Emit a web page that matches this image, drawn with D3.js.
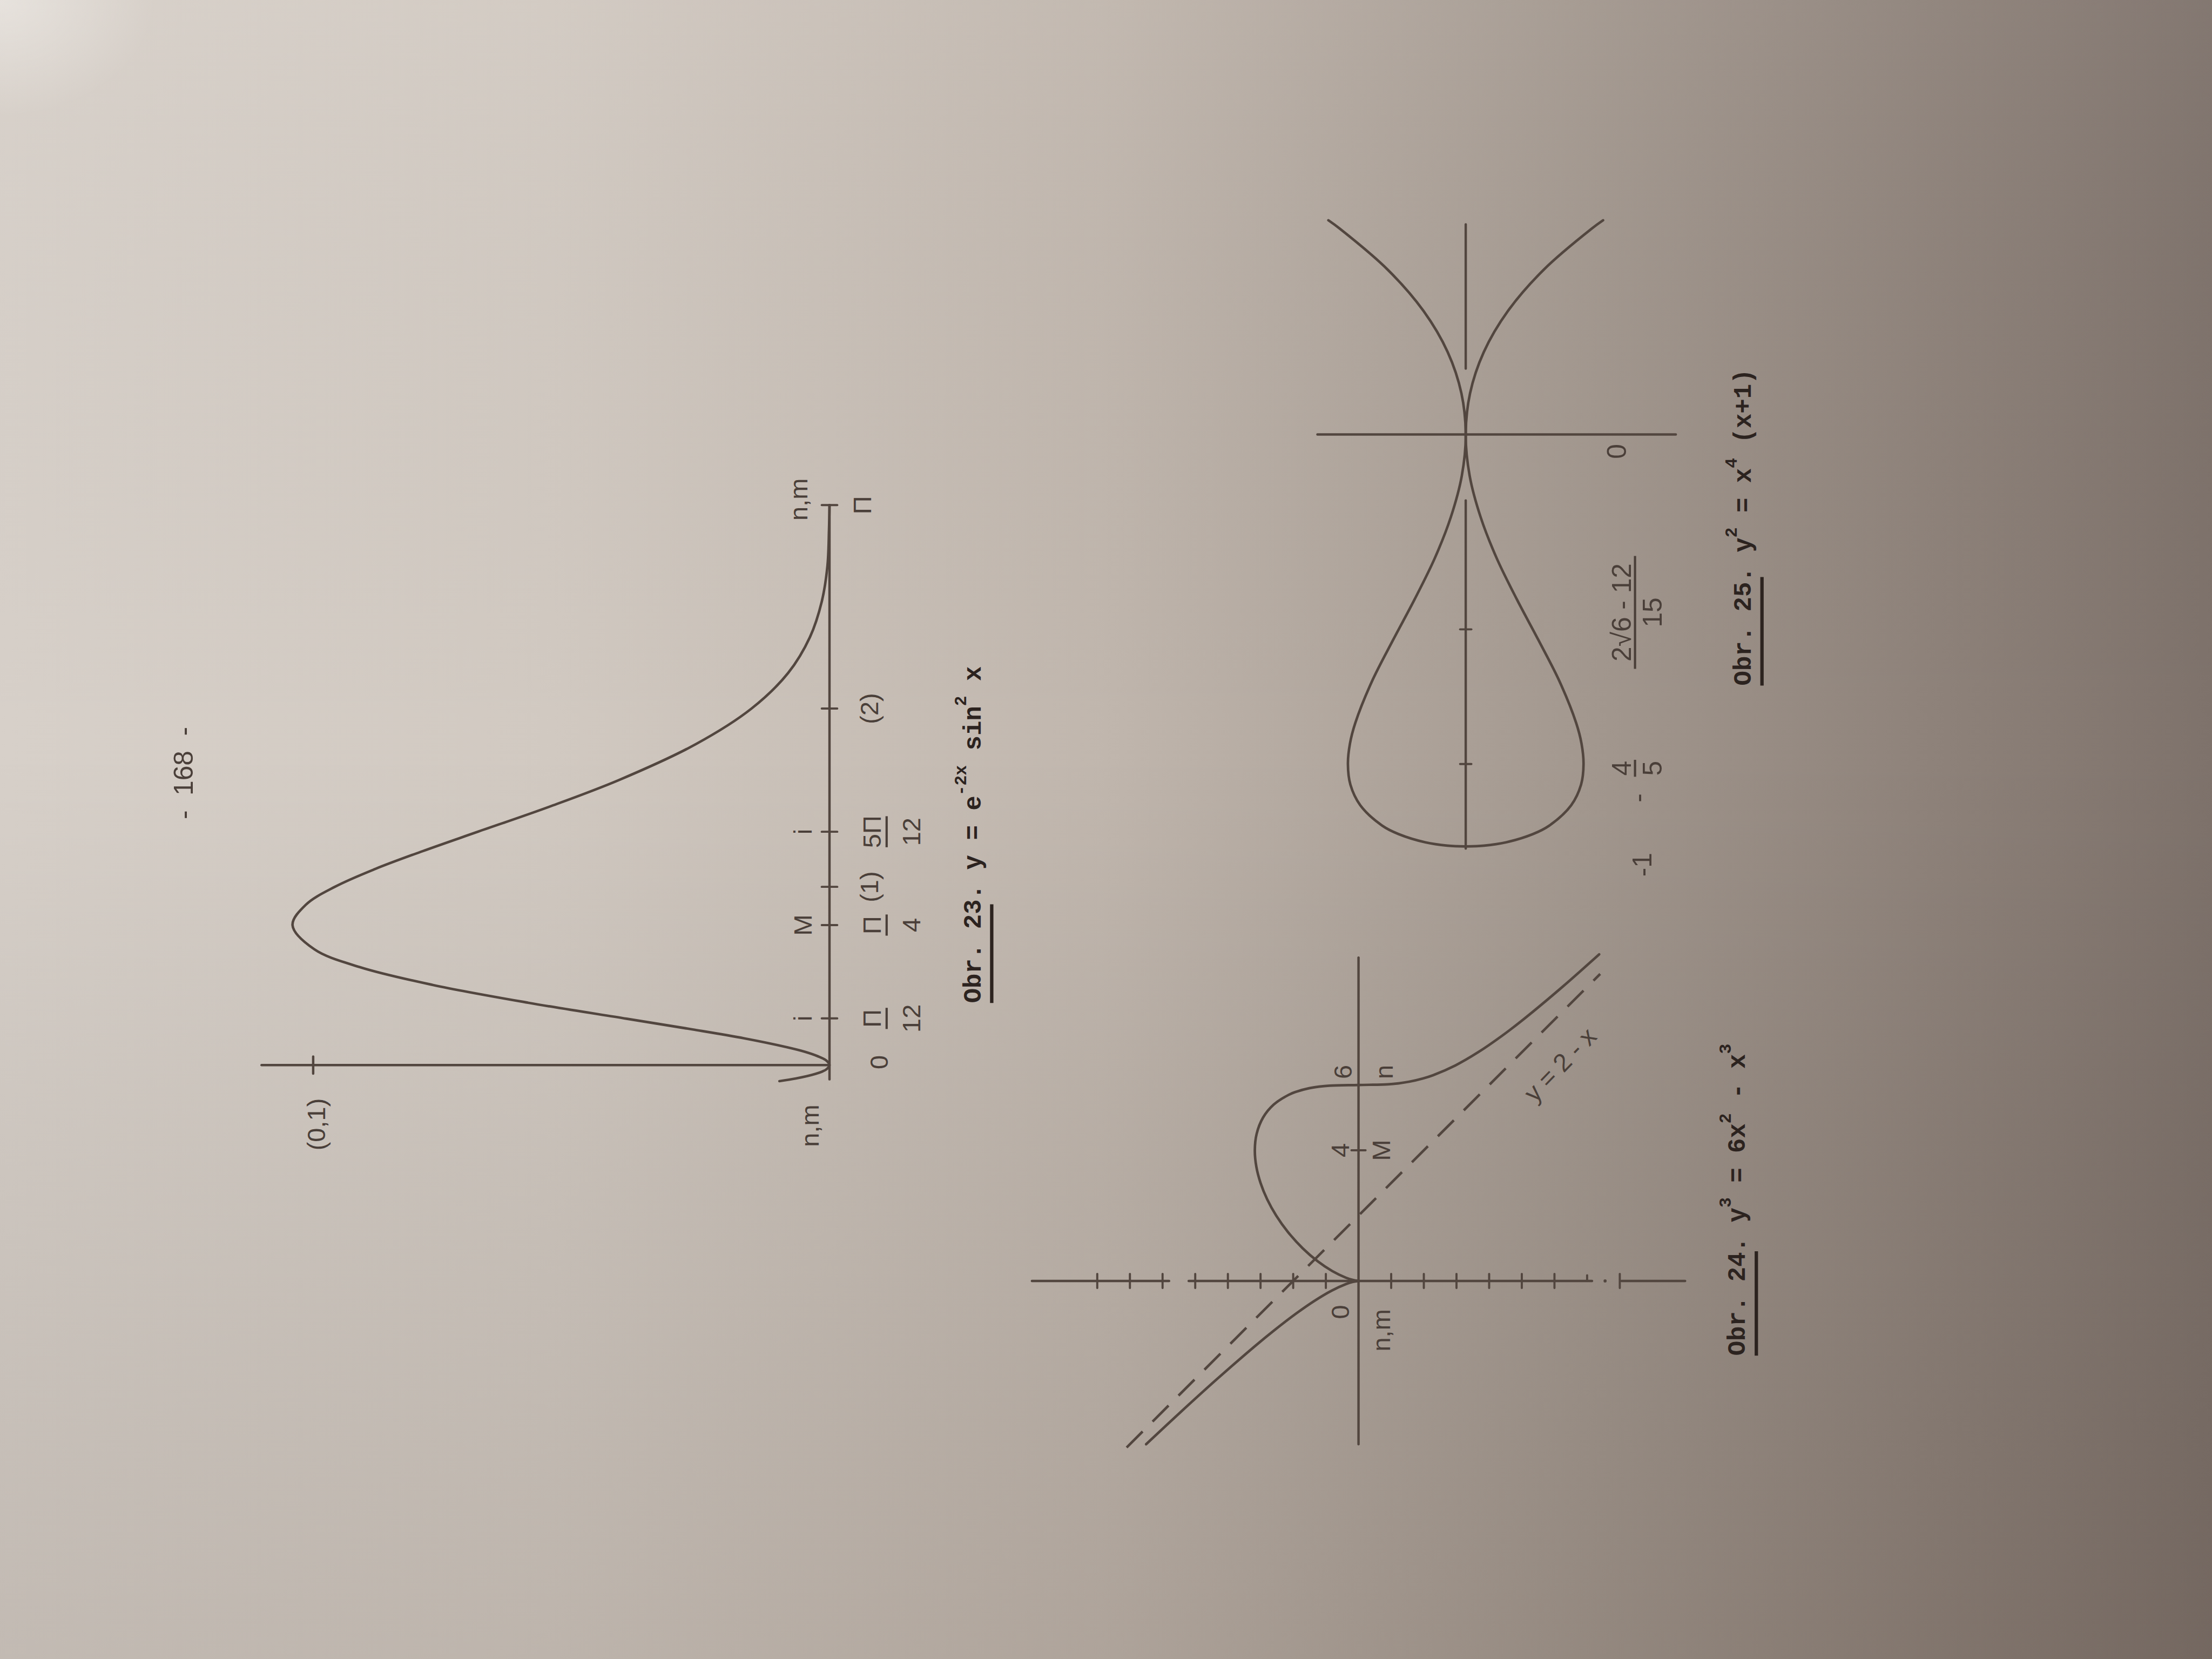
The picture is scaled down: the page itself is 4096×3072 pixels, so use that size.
<!DOCTYPE html>
<html>
<head>
<meta charset="utf-8">
<script src="https://cdn.jsdelivr.net/npm/d3@7/dist/d3.min.js"></script>
<style>
html,body{margin:0;padding:0;overflow:hidden;background:#bdb3ab;}
svg{display:block;}
text{white-space:pre;}
</style>
</head>
<body>
<script>
// ---------------- data ----------------
// Obr. 23 : y = e^(-2x) sin^2 x
const fig23X = [-0.09,-0.075,-0.05,-0.025,0,0.025,0.05,0.075,0.1,0.15,0.2,0.26,0.35,0.45,0.55,0.65,0.785,0.9,1.0,1.1,1.2,1.31,1.45,1.6,1.8,2.0,2.2,2.4,2.6,2.8,3.0,3.14];
const fig23Y = [0.0097,0.0065,0.0028,0.00066,0,0.00059,0.0023,0.0048,0.0082,0.0165,0.0265,0.0393,0.0584,0.0769,0.0910,0.0998,0.1040,0.1014,0.0958,0.0880,0.0788,0.0680,0.0542,0.0407,0.0259,0.0151,0.0080,0.0038,0.0015,0.0004,0.0001,0];
const fig23XTicks = [0.2618,0.7854,1,1.309,2,3.1416];
const fig23PointNames = ["i","M","","i","",""];
const fig23TickLabels = [{num:"Π",den:"12"},{num:"Π",den:"4"},{text:"(1)"},{num:"5Π",den:"12"},{text:"(2)"},{text:"Π"}];
const fig23YTicks = [0.1];
const fig23YTickLabels = ["(0,1)"];

// Obr. 24 : y^3 = 6x^2 - x^3
const fig24LeftX  = [-5,-4,-3,-2,-1.5,-1,-0.6,-0.3,-0.1,-0.03,0];
const fig24LeftY  = [6.503,5.429,4.327,3.175,2.565,1.913,1.334,0.828,0.394,0.176,0];
const fig24RightX = [0,0.03,0.1,0.3,0.6,1,1.5,2,2.5,3,3.5,4,4.5,5,5.4,5.7,5.8,5.9,5.95,5.98,6,6.02,6.05,6.1,6.2,6.3,6.6,7,7.5,8,9,10];
const fig24RightY = [0,0.175,0.389,0.801,1.248,1.710,2.163,2.520,2.797,3.000,3.129,3.175,3.120,2.924,2.596,2.136,1.888,1.515,1.209,0.894,0,-0.898,-1.223,-1.550,-1.974,-2.284,-2.968,-3.659,-4.386,-5.040,-6.240,-7.368];
const fig24AsymX = [-5.1,9.4];
const fig24AsymY = [7.1,-7.4];
const fig24YTicks = [8,7,6,5,4,3,2,1,-1,-2,-3,-4,-5,-6,-8];
const fig24XTicks = [4];

// Obr. 25 : y^2 = x^4 (x+1)
const fig25X = [-1,-0.998,-0.99,-0.97,-0.95,-0.9,-0.85,-0.8,-0.75,-0.7,-0.6,-0.5,-0.4,-0.3,-0.2,-0.1,0,0.1,0.2,0.3,0.4,0.5,0.52];
const fig25Y = [0,0.0446,0.098,0.163,0.202,0.256,0.280,0.286,0.281,0.268,0.228,0.177,0.124,0.075,0.036,0.0095,0,0.0105,0.0438,0.1026,0.1893,0.3062,0.3334];
const fig25XTicks = [-0.8,-0.473];

// captions
const cap23 = [{t:"Obr. 23. y = e"},{t:"-2x",sup:1},{t:" sin"},{t:"2",sup:1},{t:" x"}];
const cap24 = [{t:"Obr. 24. y"},{t:"3",sup:1},{t:" = 6x"},{t:"2",sup:1},{t:" - x"},{t:"3",sup:1}];
const cap25 = [{t:"Obr. 25. y"},{t:"2",sup:1},{t:" = x"},{t:"4",sup:1},{t:" (x+1)"}];
const pageNumber = "-  168  -";

// ---------------- drawing ----------------
const W = 4096, H = 3072, K = W / 1568;
const INK = "#52463f", TXT = "#4a3f39", CAP = "#2c231f";
const SANS = "Liberation Sans, Arial, sans-serif";
const MONO = "Liberation Mono, DejaVu Sans Mono, monospace";

const svg = d3.select("body").append("svg").attr("width", W).attr("height", H);
const defs = svg.append("defs");
function lin(id, x1, y1, x2, y2, stops) {
  const g = defs.append("linearGradient").attr("id", id)
    .attr("x1", x1).attr("y1", y1).attr("x2", x2).attr("y2", y2);
  stops.forEach(s => g.append("stop").attr("offset", s[0]).attr("stop-color", s[1])
    .attr("stop-opacity", s[2] == null ? 1 : s[2]));
}
lin("bgH", 0, 0, 1, 0, [[0,"#d7d0c9"],[0.25,"#d1c9c1"],[0.5,"#c0b6ad"],[0.72,"#a2978e"],[0.88,"#8d8179"],[1,"#7e726b"]]);
lin("bgV", 0, 0, 0, 1, [[0,"#ffffff",0.04],[0.45,"#000000",0],[1,"#2a1a10",0.12]]);
const rg = defs.append("radialGradient").attr("id", "hl").attr("cx", 0).attr("cy", 0).attr("r", 0.07);
rg.append("stop").attr("offset", 0).attr("stop-color", "#f0ede9").attr("stop-opacity", 0.6);
rg.append("stop").attr("offset", 1).attr("stop-color", "#f0ede9").attr("stop-opacity", 0);
svg.append("rect").attr("width", W).attr("height", H).attr("fill", "url(#bgH)");
svg.append("rect").attr("width", W).attr("height", H).attr("fill", "url(#bgV)");
svg.append("rect").attr("width", W).attr("height", H).attr("fill", "url(#hl)");

const root = svg.append("g").attr("transform", `scale(${K})`);

function seg(g, x1, y1, x2, y2, w) {
  return g.append("line").attr("x1", x1).attr("y1", y1).attr("x2", x2).attr("y2", y2)
    .attr("stroke", INK).attr("stroke-width", w || 1.7).attr("stroke-linecap", "round");
}
function vtext(g, x, y, str, size, opt) {
  opt = opt || {};
  return g.append("text").attr("transform", `translate(${x},${y}) rotate(${opt.rot == null ? -90 : opt.rot})`)
    .attr("text-anchor", opt.anchor || "middle").attr("dominant-baseline", "central")
    .attr("font-family", opt.family || SANS).attr("font-size", size)
    .attr("fill", opt.fill || TXT).text(str);
}
function frac(g, barX, y, num, den, size, w, dNum, dDen) {
  const f = g.append("g").attr("transform", `translate(${barX},${y}) rotate(-90)`);
  f.append("text").attr("x", 0).attr("y", dNum).attr("text-anchor", "middle").attr("dominant-baseline", "central")
    .attr("font-family", SANS).attr("font-size", size).attr("fill", TXT).text(num);
  f.append("line").attr("x1", -w / 2).attr("x2", w / 2).attr("y1", 0).attr("y2", 0)
    .attr("stroke", TXT).attr("stroke-width", 1.6);
  f.append("text").attr("x", 0).attr("y", dDen).attr("text-anchor", "middle").attr("dominant-baseline", "central")
    .attr("font-family", SANS).attr("font-size", size).attr("fill", TXT).text(den);
}
function curvePath(g, gen, data, dash) {
  const p = g.append("path").datum(data).attr("d", gen).attr("fill", "none")
    .attr("stroke", INK).attr("stroke-width", 1.8).attr("stroke-linejoin", "round").attr("stroke-linecap", "round");
  if (dash) p.attr("stroke-dasharray", dash).attr("stroke-linecap", "butt");
  return p;
}

// ---------- page number ----------
vtext(root, 130, 548, pageNumber, 19);

// ---------- Obr. 23 ----------
{
  const g = root.append("g");
  const px = d3.scaleLinear().domain([0, Math.PI]).range([755, 358]);   // page x -> image Y
  const py = d3.scaleLinear().domain([0, 0.1]).range([588, 222]);       // page y -> image X
  seg(g, py(0), px(-0.08), py(0), px(Math.PI));
  seg(g, py(0), px(0), py(0.11), px(0));
  fig23YTicks.forEach((v, i) => {
    seg(g, py(v), px(0) - 6, py(v), px(0) + 6);
    vtext(g, py(v) + 2, px(0) + 42, fig23YTickLabels[i], 18);
  });
  fig23XTicks.forEach((v, i) => {
    seg(g, py(0) - 5.5, px(v), py(0) + 5.5, px(v), 1.5);
    if (fig23PointNames[i]) vtext(g, py(0) - 19, px(v), fig23PointNames[i], 18);
    const L = fig23TickLabels[i];
    if (L.num) frac(g, py(0) + 40.5, px(v), L.num, L.den, 18, L.num.length > 1 ? 22 : 15, -10.5, 17.5);
    else vtext(g, py(0) + (L.text === "Π" ? 23 : 28), px(v), L.text, 18);
  });
  vtext(g, py(0) - 22, px(Math.PI) - 4, "n,m", 18);
  vtext(g, py(0) - 14, px(0) + 43, "n,m", 18);
  vtext(g, py(0) + 35, px(0) - 2, "0", 18);
  const gen = d3.line().x(d => py(d[1])).y(d => px(d[0])).curve(d3.curveCatmullRom.alpha(0.5));
  curvePath(g, gen, d3.zip(fig23X, fig23Y));
}

// ---------- Obr. 24 ----------
{
  const g = root.append("g");
  const px = d3.scaleLinear().domain([0, 10]).range([908, 908 - 231.5]);  // page x -> image Y
  const py = d3.scaleLinear().domain([0, 10]).range([963, 963 - 231.5]);  // page y -> image X
  seg(g, py(0), px(-5.0), py(0), px(9.9));
  [[10, 5.8], [5.2, -7.15], [-8.05, -10]].forEach(s => seg(g, py(s[0]), px(0), py(s[1]), px(0)));
  g.append("circle").attr("cx", py(-7.55)).attr("cy", px(0)).attr("r", 1.1).attr("fill", INK);
  fig24YTicks.forEach(v => seg(g, py(v), px(0) - 5, py(v), px(0) + 5, 1.5));
  seg(g, py(-7), px(0) - 4, py(-7), px(0), 1.5);
  fig24XTicks.forEach(v => seg(g, py(0) - 5, px(v), py(0) + 5, px(v), 1.5));
  const gen = d3.line().x(d => py(d[1])).y(d => px(d[0])).curve(d3.curveCatmullRom.alpha(0.5));
  curvePath(g, gen, d3.zip(fig24LeftX, fig24LeftY));
  curvePath(g, gen, d3.zip(fig24RightX, fig24RightY));
  curvePath(g, d3.line().x(d => py(d[1])).y(d => px(d[0])), d3.zip(fig24AsymX, fig24AsymY), "16 10");
  vtext(g, py(0) - 13, px(0) + 22, "0", 18);
  vtext(g, py(0) + 16, px(0) + 35, "n,m", 18);
  vtext(g, py(0) - 11, px(6.4), "6", 18);
  vtext(g, py(0) + 18, px(6.4), "n", 18);
  vtext(g, py(0) - 13, px(4), "4", 18);
  vtext(g, py(0) + 16, px(4), "M", 18);
  vtext(g, py(-6.3) - 3, px(6.8) + 4, "y = 2 - x", 18, {rot: -46});
}

// ---------- Obr. 25 ----------
{
  const g = root.append("g");
  const px = d3.scaleLinear().domain([-1, 0]).range([600, 308]);        // page x -> image Y
  const py = d3.scaleLinear().domain([0, 1]).range([1039, 1039 - 292]);  // page y -> image X
  seg(g, py(0.36), px(0), py(-0.51), px(0));
  seg(g, py(0), px(-1.005), py(0), px(-0.16));
  seg(g, py(0), px(0.16), py(0), px(0.51));
  fig25XTicks.forEach(v => seg(g, py(0) - 4, px(v), py(0) + 4, px(v), 1.5));
  const gen = d3.line().x(d => py(d[1])).y(d => px(d[0])).curve(d3.curveCatmullRom.alpha(0.5));
  curvePath(g, gen, d3.zip(fig25X, fig25Y));
  curvePath(g, gen, d3.zip(fig25X, fig25Y.map(v => -v)));
  vtext(g, 1146, px(0) + 12, "0", 19);
  frac(g, 1159, px(-0.473) - 12, "2√6 - 12", "15", 19, 80, -9.5, 12.5);
  frac(g, 1159, px(-0.8) + 3, "4", "5", 19, 12, -9.5, 12.5);
  vtext(g, 1161, px(-0.8) + 24, "-", 19);
  vtext(g, 1164, px(-1) + 13, "-1", 19);
}

// ---------- captions ----------
function caption(x, y, parts, ulen) {
  const t = root.append("text").attr("transform", `translate(${x},${y}) rotate(-90)`)
    .attr("font-family", MONO).attr("font-weight", "bold").attr("font-size", 17.5).attr("fill", CAP);
  let up = false;
  parts.forEach(p => {
    const s = t.append("tspan").text(p.t);
    if (p.sup) { s.attr("font-size", 12); if (!up) { s.attr("dy", -10); up = true; } }
    else if (up) { s.attr("dy", 10); up = false; }
  });
  root.append("line").attr("x1", x + 8).attr("x2", x + 8).attr("y1", y).attr("y2", y - ulen)
    .attr("stroke", CAP).attr("stroke-width", 2.4);
}
caption(695, 711, cap23, 70);
caption(1237, 961, cap24, 74);
caption(1241, 486, cap25, 77);
</script>
</body>
</html>
